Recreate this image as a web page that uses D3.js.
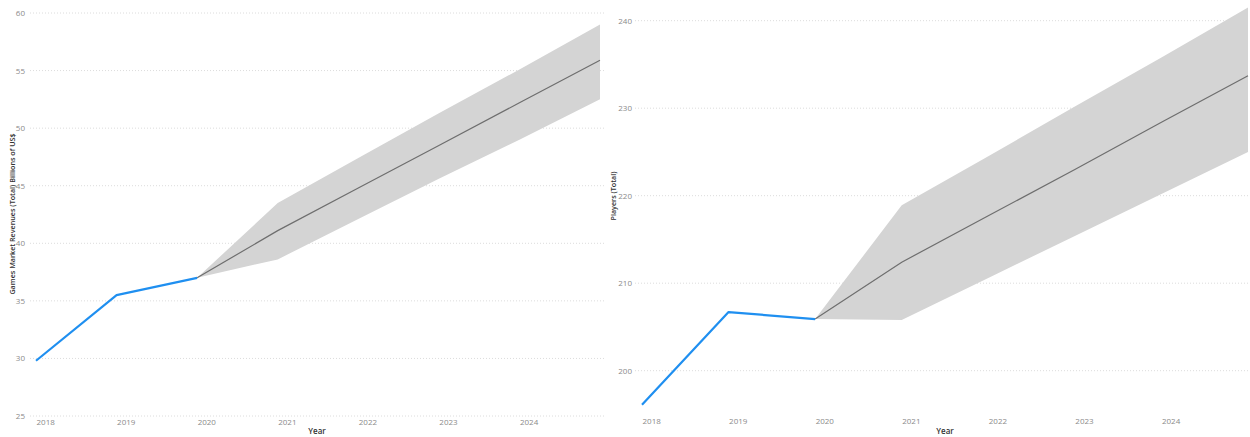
<!DOCTYPE html>
<html>
<head>
<meta charset="utf-8">
<script src="https://cdn.jsdelivr.net/npm/d3@7/dist/d3.min.js"></script>
<style>
  html, body { margin: 0; padding: 0; background: #fff; }
  svg { display: block; }
  .tick text { font-family: "Open Sans", "DejaVu Sans", sans-serif; font-size: 8px; fill: #8a8a8a; }
  .axis-title { font-family: "Open Sans", "DejaVu Sans", sans-serif; font-size: 8px; font-weight: 600; fill: #333; }
  .axis-title.y { font-size: 7.2px; }
</style>
</head>
<body>
<svg id="chart" width="1250" height="437"></svg>
<script>
// Historical actuals
const years = [2018, 2019, 2020];
const revenue = [29.8, 35.5, 37.0];
const players = [196.1, 206.7, 205.9];

// Forecast with confidence band
const forecastYears = [2020, 2021, 2022, 2023, 2024, 2025];
const revenueForecast = [37.0, 41.1, 44.8, 48.5, 52.2, 55.9];
const revenueUpper = [37.0, 43.5, 47.4, 51.3, 55.1, 59.0];
const revenueLower = [37.0, 38.6, 42.1, 45.6, 49.0, 52.5];
const playersForecast = [205.9, 212.4, 217.7, 223.0, 228.4, 233.7];
const playersUpper = [205.9, 218.9, 224.5, 230.2, 235.8, 241.5];
const playersLower = [205.9, 205.8, 210.6, 215.4, 220.2, 225.0];

// Axis ticks
const xTickYears = [2018, 2019, 2020, 2021, 2022, 2023, 2024];
const revenueTicks = [25, 30, 35, 40, 45, 50, 55, 60];
const playersTicks = [200, 210, 220, 230, 240];

const svg = d3.select("#chart");

function drawPanel(cfg) {
  const x = d3.scaleLinear().domain([2018, 2025]).range(cfg.xRange);
  const y = d3.scaleLinear().domain(cfg.yDomain).range(cfg.yRange);
  const g = svg.append("g");

  // dotted horizontal gridlines
  g.append("g").selectAll("line").data(cfg.yTicks).join("line")
    .attr("x1", cfg.gridX[0]).attr("x2", cfg.gridX[1])
    .attr("y1", d => y(d)).attr("y2", d => y(d))
    .attr("stroke", "#dcdcdc").attr("stroke-width", 1)
    .attr("stroke-dasharray", "1,2");

  // y axis labels
  const yAxis = g.append("g")
    .attr("transform", `translate(${cfg.yLabelX},0)`)
    .call(d3.axisLeft(y).tickValues(cfg.yTicks).tickSize(0).tickPadding(0).tickFormat(d3.format("d")));
  yAxis.select(".domain").remove();

  // x axis labels, left-aligned on each year
  const xAxis = g.append("g")
    .attr("transform", `translate(0,${cfg.xLabelY})`)
    .call(d3.axisBottom(x).tickValues(xTickYears).tickSize(0).tickPadding(0).tickFormat(d3.format("d")));
  xAxis.select(".domain").remove();
  xAxis.selectAll("text").attr("text-anchor", "start").attr("dy", "0.71em");

  // confidence band
  const band = forecastYears.map((yr, i) => ({ yr, lo: cfg.lower[i], hi: cfg.upper[i] }));
  g.append("path").datum(band)
    .attr("fill", "#d4d4d4")
    .attr("d", d3.area().x(d => x(d.yr)).y0(d => y(d.lo)).y1(d => y(d.hi)));

  // forecast line
  g.append("path").datum(forecastYears.map((yr, i) => ({ yr, v: cfg.forecast[i] })))
    .attr("fill", "none").attr("stroke", "#6e6e6e").attr("stroke-width", 1.2)
    .attr("d", d3.line().x(d => x(d.yr)).y(d => y(d.v)));

  // actual line
  g.append("path").datum(years.map((yr, i) => ({ yr, v: cfg.actual[i] })))
    .attr("fill", "none").attr("stroke", "#1f8ff0").attr("stroke-width", 2.2)
    .attr("stroke-linejoin", "round")
    .attr("d", d3.line().x(d => x(d.yr)).y(d => y(d.v)));

  // axis titles
  g.append("text").attr("class", "axis-title")
    .attr("x", cfg.xTitleX).attr("y", 434).attr("text-anchor", "middle")
    .text("Year");
  g.append("text").attr("class", "axis-title y")
    .attr("transform", `translate(${cfg.yTitleX},${cfg.yTitleY}) rotate(-90)`)
    .attr("text-anchor", "middle")
    .text(cfg.yTitle);
}

drawPanel({
  xRange: [36, 600], yDomain: [25, 60], yRange: [416, 13],
  gridX: [30, 604], yTicks: revenueTicks, yLabelX: 25, xLabelY: 419,
  actual: revenue, forecast: revenueForecast, upper: revenueUpper, lower: revenueLower,
  xTitleX: 317, yTitleX: 15, yTitleY: 214,
  yTitle: "Games Market Revenues (Total) Billions of US$"
});

drawPanel({
  xRange: [642, 1248], yDomain: [200, 240], yRange: [370.7, 20.7],
  gridX: [635, 1248], yTicks: playersTicks, yLabelX: 632, xLabelY: 418,
  actual: players, forecast: playersForecast, upper: playersUpper, lower: playersLower,
  xTitleX: 945, yTitleX: 616, yTitleY: 196,
  yTitle: "Players (Total)"
});
</script>
</body>
</html>
